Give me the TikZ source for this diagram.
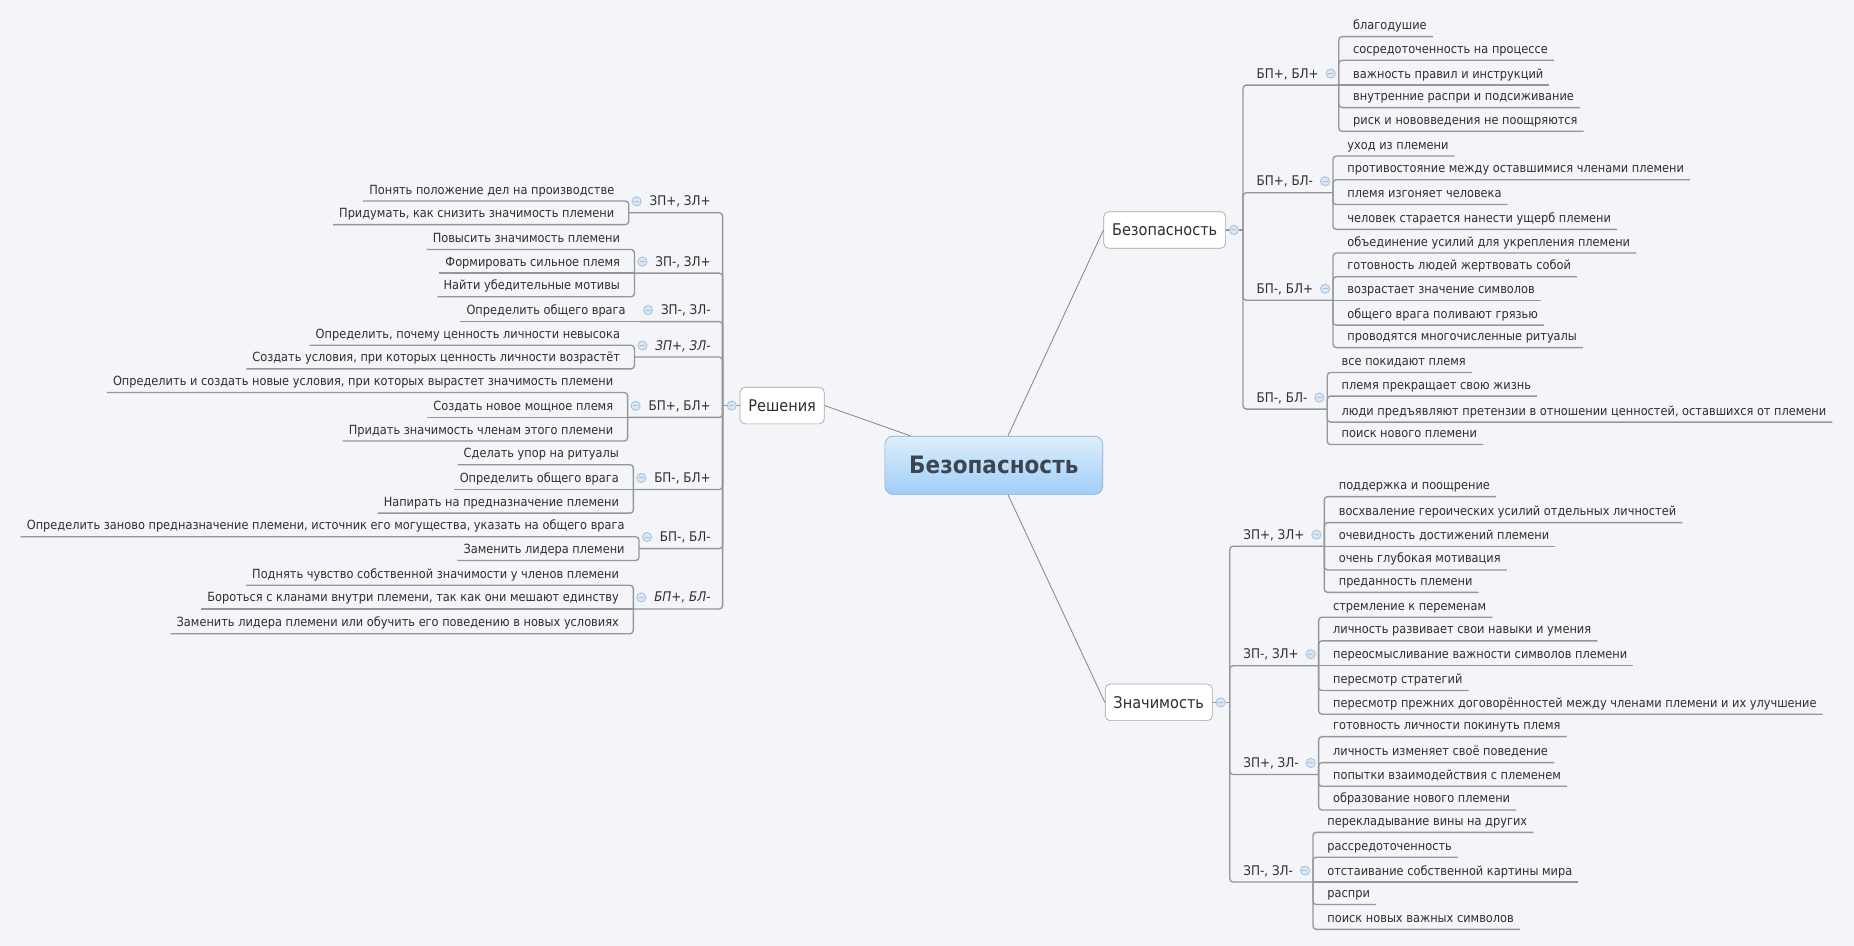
\documentclass[tikz,border=0pt]{standalone}
\usepackage{fontspec}
\setmainfont{DejaVu Sans}[FakeStretch=0.9]
\usetikzlibrary{positioning,calc}
\definecolor{bgpaper}{HTML}{F3F5F9}
\definecolor{inkgray}{HTML}{2E2E2E}
\definecolor{boxedge}{HTML}{A4A4A4}
\definecolor{branchgray}{HTML}{969696}
\definecolor{spokegray}{HTML}{888888}
\definecolor{foldfill}{HTML}{DCE7F4}
\definecolor{foldedge}{HTML}{A5C0DE}
\definecolor{centop}{HTML}{DDEEFC}
\definecolor{cenbot}{HTML}{A0CEF7}
\definecolor{cenedge}{HTML}{8FAAC4}
\definecolor{centext}{HTML}{3B4651}

\begin{document}
\begin{tikzpicture}[x=0.025cm,y=-0.025cm,
  every node/.style={text=inkgray},
  core/.style={draw=cenedge, top color=centop, bottom color=cenbot, rounded corners=5pt,
    minimum width=131pt, minimum height=35pt, text=centext,
    font=\bfseries\fontsize{14.4}{16}\selectfont},
  topic/.style={draw=boxedge, fill=white, rounded corners=3pt, inner xsep=5pt,
    minimum height=22pt, font=\fontsize{9.7}{11}\selectfont},
  fold/.style={circle, draw=foldedge, fill=foldfill, line width=0.5pt, minimum size=5.5pt,
    inner sep=0pt, path picture={\draw[foldedge, line width=0.6pt]
      ([xshift=-1.5pt]path picture bounding box.center) -- ([xshift=1.5pt]path picture bounding box.center);}},
  tagtext/.style={inner ysep=0pt, text height=6pt, text depth=4pt, font=\fontsize{8}{9}\selectfont},
  tagR/.style={tagtext, anchor=south west, xshift=5pt, inner xsep=3pt},
  tagL/.style={tagtext, anchor=south east, xshift=-5pt, inner xsep=2pt},
  leaftext/.style={inner xsep=3.5pt, inner ysep=0pt, text height=6pt, text depth=4pt,
    font=\fontsize{7.6}{9}\selectfont},
  leafR/.style={leaftext, anchor=south west, xshift=5pt},
  leafL/.style={leaftext, anchor=south east, xshift=-5pt},
  branch/.style={draw=branchgray, line width=0.8pt, rounded corners=2pt},
  spoke/.style={draw=spokegray, line width=0.5pt}]

\fill[bgpaper] (0,0) rectangle (1568,800);
\useasboundingbox (0,0) rectangle (1568,800);

% main topics
\node[core] (cen) at (840.5,393.5) {Безопасность};
\node[topic] (bez) at (985,194.5) {Безопасность};
\node[topic] (zn) at (980,594) {Значимость};
\node[topic] (res) at (661.5,343) {Решения};
\draw[spoke] ($(cen.north)+(12,0)$) -- (bez.west);
\draw[spoke] ($(cen.south)+(12,0)$) -- (zn.west);
\draw[spoke] ($(cen.north)+(-70.5,0)$) -- (res.east);

\node[fold, right=1.8pt of bez] (bezf) {};
\node[fold, right=1.8pt of zn] (znf) {};
\node[fold, left=1.8pt of res] (resf) {};
\path (bezf.east) ++(3.5,0) coordinate (bezt);
\path (znf.east) ++(3.5,0) coordinate (znt);
\path (resf.west) ++(-3.5,0) coordinate (rest);
\draw[branch] (bez.east) -- (bezf.west) (bezf.east) -- (bezt);
\draw[branch] (zn.east) -- (znf.west) (znf.east) -- (znt);
\draw[branch] (res.west) -- (resf.east) (resf.west) -- (rest);

% combinations, right side
\foreach \t/\g/\y/\c in {bezt/bp1/72/{БП+, БЛ+}, bezt/bp2/163/{БП+, БЛ-},
    bezt/bp3/254/{БП-, БЛ+}, bezt/bp4/346/{БП-, БЛ-},
    znt/zp1/462/{ЗП+, ЗЛ+}, znt/zp2/563/{ЗП-, ЗЛ+},
    znt/zp3/655/{ЗП+, ЗЛ-}, znt/zp4/746/{ЗП-, ЗЛ-}} {
  \node[tagR] (\g) at (\t |- 0,\y) {\c};
  \node[fold, right=1pt of \g.mid east] (f\g) {};
  \path (f\g.east |- 0,\y) ++(2.5,0) coordinate (k\g);
  \draw[branch] (\t) |- (\g.south west) -- (k\g);
}

% combinations, left side
\foreach \g/\y/\c in {rs1/180/{ЗП+, ЗЛ+}, rs2/231/{ЗП-, ЗЛ+}, rs3/272/{ЗП-, ЗЛ-},
    rs4/302/{\itshape ЗП+, ЗЛ-}, rs5/353/{БП+, БЛ+}, rs6/414/{БП-, БЛ+},
    rs7/464/{БП-, БЛ-}, rs8/515/{\itshape БП+, БЛ-}} {
  \node[tagL] (\g) at (rest |- 0,\y) {\c};
  \node[fold, left=2.6pt of \g.mid west] (f\g) {};
  \path (f\g.west |- 0,\y) ++(-2.5,0) coordinate (k\g);
  \draw[branch] (rest) |- (\g.south east) -- (k\g);
}

% outcomes above and below their combination
\foreach \k/\n/\y/\t in {
    kbp1/bp1a/31/благодушие, kbp1/bp1b/51/сосредоточенность на процессе,
    kbp1/bp1d/91/внутренние распри и подсиживание,
    kbp1/bp1e/111/риск и нововведения не поощряются,
    kbp2/bp2a/132/уход из племени, kbp2/bp2b/152/противостояние между оставшимися членами племени,
    kbp2/bp2c/173/племя изгоняет человека, kbp2/bp2d/194/человек старается нанести ущерб племени,
    kbp3/bp3a/214/объединение усилий для укрепления племени, kbp3/bp3b/234/готовность людей жертвовать собой,
    kbp3/bp3d/275/общего врага поливают грязью,
    kbp3/bp3e/294/проводятся многочисленные ритуалы,
    kbp4/bp4a/315/все покидают племя, kbp4/bp4b/335/племя прекращает свою жизнь,
    kbp4/bp4c/357/{люди предъявляют претензии в отношении ценностей, оставшихся от племени},
    kbp4/bp4d/376/поиск нового племени,
    kzp1/zp1a/420/поддержка и поощрение, kzp1/zp1b/442/восхваление героических усилий отдельных личностей,
    kzp1/zp1d/482/очень глубокая мотивация,
    kzp1/zp1e/501/преданность племени,
    kzp2/zp2a/522/стремление к переменам, kzp2/zp2b/542/личность развивает свои навыки и умения,
    kzp2/zp2d/584/пересмотр стратегий,
    kzp2/zp2e/604/пересмотр прежних договорённостей между членами племени и их улучшение,
    kzp3/zp3a/623/готовность личности покинуть племя, kzp3/zp3b/645/личность изменяет своё поведение,
    kzp3/zp3c/665/попытки взаимодействия с племенем, kzp3/zp3d/685/образование нового племени,
    kzp4/zp4a/704/перекладывание вины на других, kzp4/zp4b/725/рассредоточенность,
    kzp4/zp4d/765/распри,
    kzp4/zp4e/786/поиск новых важных символов} {
  \node[leafR] (\n) at (\k |- 0,\y) {\t};
  \draw[branch] (\k) |- (\n.south west) -- (\n.south east);
}

\foreach \k/\n/\y/\t in {
    krs1/rs1a/170/Понять положение дел на производстве,
    krs1/rs1b/190/{Придумать, как снизить значимость племени},
    krs2/rs2a/211/Повысить значимость племени,
    krs2/rs2c/251/Найти убедительные мотивы,
    krs4/rs4a/292/{Определить, почему ценность личности невысока},
    krs4/rs4b/312/{Создать условия, при которых ценность личности возрастёт},
    krs5/rs5a/332/{Определить и создать новые условия, при которых вырастет значимость племени},
    krs5/rs5c/373/Придать значимость членам этого племени,
    krs6/rs6a/393/Сделать упор на ритуалы,
    krs6/rs6c/434/Напирать на предназначение племени,
    krs7/rs7a/454/{Определить заново предназначение племени, источник его могущества, указать на общего врага},
    krs7/rs7b/474/Заменить лидера племени,
    krs8/rs8a/495/Поднять чувство собственной значимости у членов племени,
    krs8/rs8c/536/Заменить лидера племени или обучить его поведению в новых условиях} {
  \node[leafL] (\n) at (\k |- 0,\y) {\t};
  \draw[branch] (\k) |- (\n.south east) -- (\n.south west);
}

% outcomes on the line of their combination
\foreach \k/\n/\t in {kbp1/bp1c/важность правил и инструкций,
    kbp3/bp3c/возрастает значение символов, kzp1/zp1c/очевидность достижений племени,
    kzp2/zp2c/переосмысливание важности символов племени,
    kzp4/zp4c/отстаивание собственной картины мира} {
  \node[leafR] (\n) at (\k) {\t};
  \draw[branch] (\k) -- (\n.south east);
}
\foreach \k/\n/\t in {krs2/rs2b/Формировать сильное племя, krs3/rs3a/Определить общего врага,
    krs5/rs5b/Создать новое мощное племя, krs6/rs6b/Определить общего врага,
    krs8/rs8b/{Бороться с кланами внутри племени, так как они мешают единству}} {
  \node[leafL] (\n) at (\k) {\t};
  \draw[branch] (\k) -- (\n.south west);
}
\end{tikzpicture}
\end{document}
